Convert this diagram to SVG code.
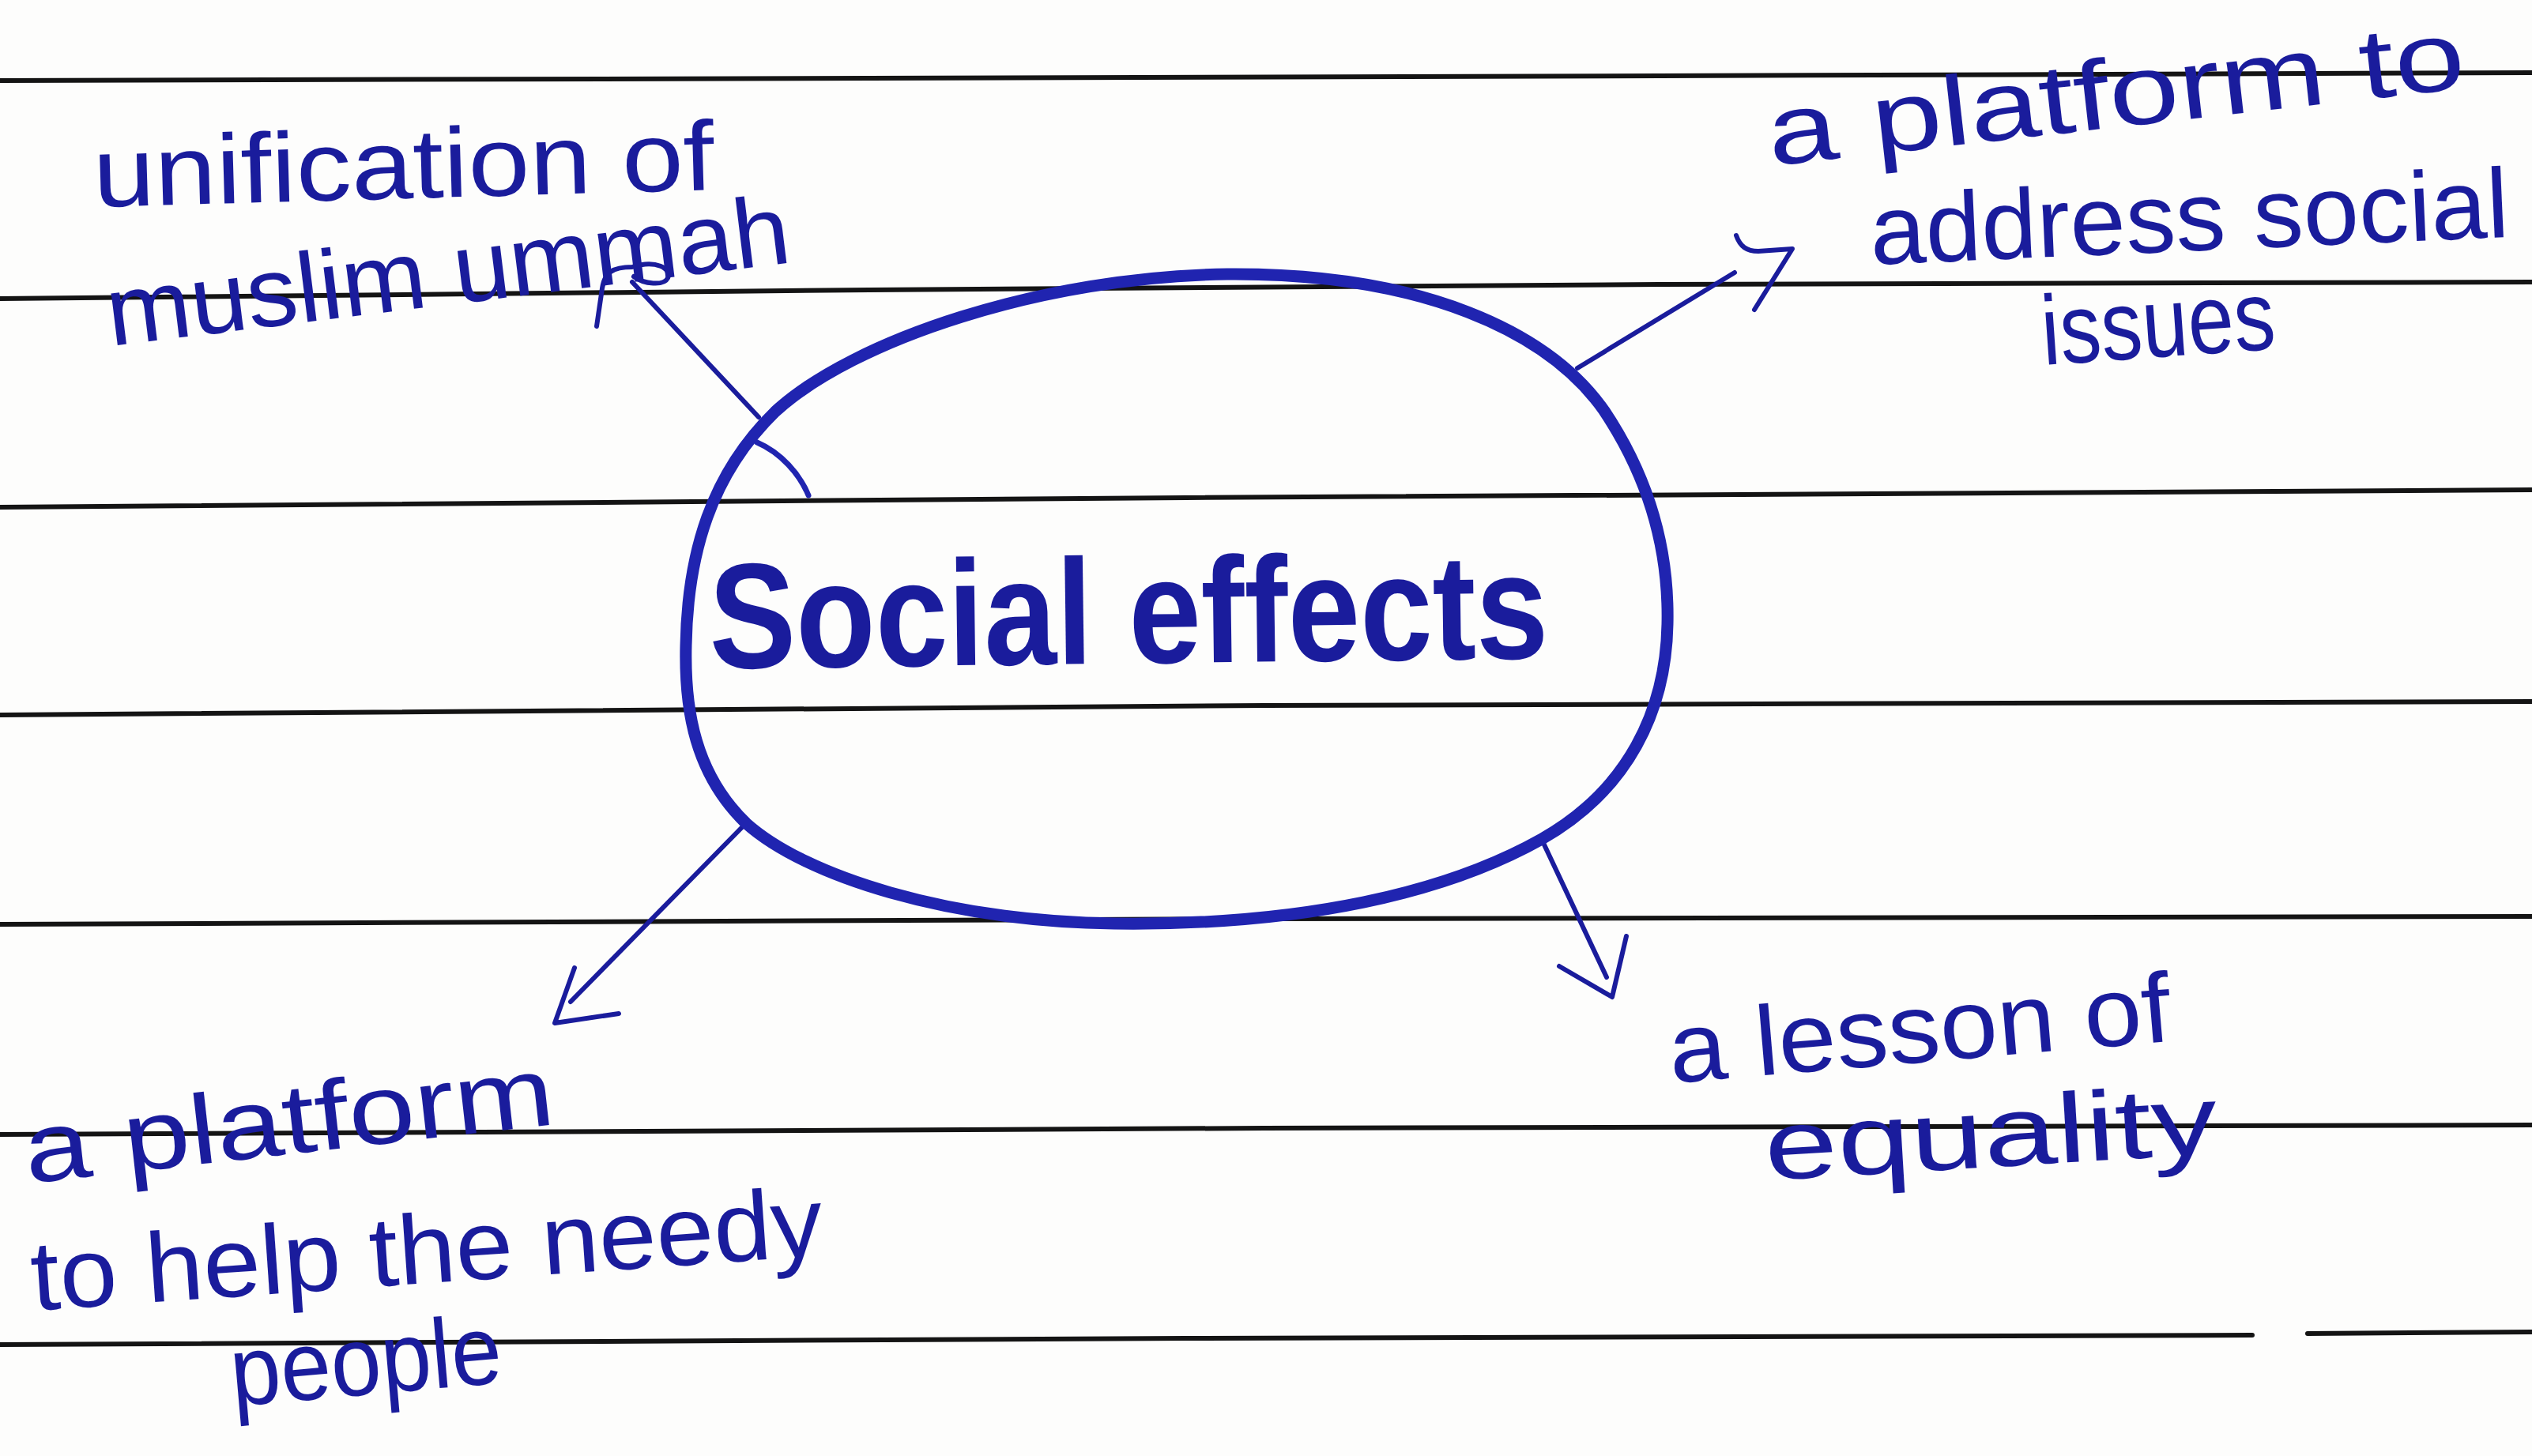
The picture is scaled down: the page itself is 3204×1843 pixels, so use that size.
<svg xmlns="http://www.w3.org/2000/svg" width="3204" height="1843" viewBox="0 0 3204 1843">
<style>
.rule{fill:none;stroke:#141414;stroke-width:6;stroke-linecap:round}
.ink{font-family:"Liberation Sans","DejaVu Sans",sans-serif;fill:#1a1c9c}
.lbl{font-size:125px}
.conn{fill:none;stroke:#1a1c9c;stroke-width:6;stroke-linecap:round;stroke-linejoin:round}
.oval{fill:none;stroke:#2024b0;stroke-width:15;stroke-linecap:round;stroke-linejoin:round}
</style>
<rect x="0" y="0" width="3204" height="1843" fill="#fdfdfc"/>
<g id="ruled-lines">
<polyline class="rule" points="0,102 1100,99 2100,96 3204,92"/>
<polyline class="rule" points="0,378 1100,367 2100,360 3204,357"/>
<polyline class="rule" points="0,642 1500,630 3204,620"/>
<polyline class="rule" points="0,905 1600,893 3204,888"/>
<polyline class="rule" points="0,1170 1600,1163 3204,1160"/>
<polyline class="rule" points="0,1436 1600,1428 3204,1424"/>
<polyline class="rule" points="0,1702 1500,1694 2850,1690"/>
<polyline class="rule" points="2920,1688 3204,1686"/>
</g>
<g id="connectors">
<path class="conn" d="M960,528 L800,357"/>
<path class="conn" d="M755,413 L762,365 C765,345 775,338 800,338 C830,328 850,340 845,352 C840,362 815,360 802,350"/>
<path class="conn" d="M1996,466 L2195,345"/>
<path class="conn" d="M2197,298 C2202,312 2210,318 2225,318 L2268,315 L2220,392"/>
<path class="conn" d="M944,1042 L722,1268"/>
<path class="conn" d="M727,1225 L702,1295 L783,1283"/>
<path class="conn" d="M1953,1067 L2033,1237"/>
<path class="conn" d="M1973,1223 L2040,1262 L2058,1185"/>
</g>
<g id="node-center">
<path class="oval" d="M1553,347 C1800,345 1960,420 2030,520 C2090,610 2112,700 2110,790 C2108,900 2060,1000 1951,1062 C1830,1130 1650,1172 1410,1169 C1200,1166 1020,1110 944,1042 C880,980 866,900 868,817 C870,700 900,600 981,521 C1080,430 1320,350 1553,347 Z"/>
<path class="oval" style="stroke-width:7" d="M958,560 C988,573 1012,600 1023,627"/>
<text class="ink" x="898" y="846" font-size="190" font-weight="bold" textLength="1062" lengthAdjust="spacingAndGlyphs" transform="rotate(-0.7 898 846)">Social effects</text>
</g>
<g id="node-unification">
<text class="ink lbl" x="119" y="262" textLength="786" lengthAdjust="spacingAndGlyphs" transform="rotate(-1.6 119 262)">unification of</text>
<text class="ink lbl" x="140" y="438" textLength="870" lengthAdjust="spacingAndGlyphs" transform="rotate(-7 140 438)">muslim ummah</text>
</g>
<g id="node-social-issues">
<text class="ink lbl" x="2241" y="210" textLength="887" lengthAdjust="spacingAndGlyphs" transform="rotate(-6.4 2241 210)">a platform to</text>
<text class="ink lbl" x="2368" y="335" textLength="809" lengthAdjust="spacingAndGlyphs" transform="rotate(-2.5 2368 335)">address social</text>
<text class="ink lbl" x="2586" y="462" textLength="296" lengthAdjust="spacingAndGlyphs" transform="rotate(-4 2586 462)">issues</text>
</g>
<g id="node-needy">
<text class="ink lbl" x="35" y="1498" textLength="674" lengthAdjust="spacingAndGlyphs" transform="rotate(-6.4 35 1498)">a platform</text>
<text class="ink lbl" x="42" y="1659" textLength="1004" lengthAdjust="spacingAndGlyphs" transform="rotate(-4 42 1659)">to help the needy</text>
<text class="ink lbl" x="295" y="1780" textLength="344" lengthAdjust="spacingAndGlyphs" transform="rotate(-5 295 1780)">people</text>
</g>
<g id="node-equality">
<text class="ink lbl" x="2115" y="1371" textLength="637" lengthAdjust="spacingAndGlyphs" transform="rotate(-4.8 2115 1371)">a lesson of</text>
<text class="ink lbl" x="2235" y="1494" textLength="574" lengthAdjust="spacingAndGlyphs" transform="rotate(-3.4 2235 1494)">equality</text>
</g>
</svg>
